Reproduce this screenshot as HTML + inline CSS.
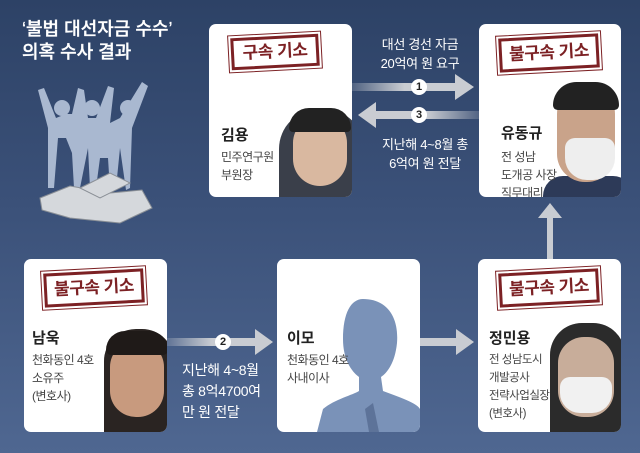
<!DOCTYPE html>
<html><head><meta charset="utf-8"><style>
*{margin:0;padding:0;box-sizing:border-box}
body{width:640px;height:453px;overflow:hidden;background:linear-gradient(180deg,#2d4266 0%,#3b5179 45%,#4f6791 100%);font-family:"Liberation Sans","Noto Sans CJK KR",sans-serif;position:relative}
.a{position:absolute}
.card{position:absolute;background:#fff;border-radius:7px;overflow:hidden}
.stamp{position:absolute;border:3px solid #7c2124;outline:1px solid #7c2124;outline-offset:2px;color:#7c2124;font-weight:bold;font-size:17px;text-align:center;line-height:26px;transform:rotate(-3deg);letter-spacing:-0.5px}
.name{position:absolute;font-weight:bold;font-size:15px;color:#222}
.desc{position:absolute;font-size:12px;color:#444;line-height:18px;letter-spacing:-0.5px}
.wt{position:absolute;color:#fff;font-size:13px;line-height:19px;text-align:center;letter-spacing:-0.3px}
.circ{position:absolute;width:16px;height:16px;border-radius:50%;background:#fff;color:#222;font-size:11px;font-weight:bold;text-align:center;line-height:16px}
</style></head><body>
<div class="a" style="left:22px;top:18px;color:#fff;font-size:18px;line-height:23px;font-weight:500;-webkit-text-stroke:0.3px #fff">‘불법 대선자금 수수’<br>의혹 수사 결과</div>
<svg class="a" style="left:30px;top:78px" width="140" height="150">
<g fill="#a9b8d0"><path d="M8 12 L14 10 L26 40 L36 36 L42 36 L48 10 L54 12 L58 40 L66 40 L78 8 L84 10 L80 45 L90 40 L112 4 L118 8 L102 50 L100 110 L96 112 L90 70 L86 110 L80 112 L78 80 L70 80 L66 110 L60 110 L58 70 L50 110 L44 110 L42 75 L36 60 L28 60 L24 110 L18 110 L18 50 Z"/><circle cx="32" cy="30" r="8"/><circle cx="62" cy="30" r="8"/><circle cx="98" cy="30" r="8"/></g>
<g fill="#d5d8dc" stroke="#8a8f96"><path d="M10 120 L40 108 L80 115 L112 112 L122 130 L90 145 L40 140 L12 132 Z"/><path d="M50 110 L80 95 L100 105 L70 120 Z"/></g>
</svg>

<!-- Kim card -->
<div class="card" style="left:209px;top:24px;width:143px;height:173px">
<div class="a" style="left:70px;top:85px;width:85px;height:95px;background:#3a3f4a;border-radius:40px 40px 0 0"></div>
<div class="a" style="left:84px;top:92px;width:54px;height:70px;background:#d9b8a0;border-radius:27px"></div>
<div class="a" style="left:80px;top:84px;width:62px;height:24px;background:#222;border-radius:30px 30px 6px 6px"></div>
<div class="name" style="left:12px;top:100px">김용</div>
<div class="desc" style="left:12px;top:124px">민주연구원<br>부원장</div>
</div>
<div class="stamp" style="left:231px;top:36px;width:88px;height:32px">구속 기소</div>

<!-- Yoo card -->
<div class="card" style="left:479px;top:24px;width:142px;height:173px">
<div class="a" style="left:64px;top:152px;width:90px;height:30px;background:#2d3a58;border-radius:20px 20px 0 0"></div>
<div class="a" style="left:78px;top:62px;width:58px;height:96px;background:#c9a38a;border-radius:28px"></div>
<div class="a" style="left:74px;top:58px;width:66px;height:28px;background:#222;border-radius:30px 30px 6px 6px"></div>
<div class="a" style="left:86px;top:114px;width:50px;height:42px;background:#eee;border-radius:10px 10px 22px 22px"></div>
<div class="name" style="left:22px;top:98px">유동규</div>
<div class="desc" style="left:22px;top:124px">전 성남<br>도개공 사장<br>직무대리</div>
</div>
<div class="stamp" style="left:499px;top:36px;width:100px;height:34px;line-height:28px">불구속 기소</div>

<!-- arrows top -->
<div class="wt" style="left:360px;top:35px;width:120px">대선 경선 자금<br>20억여 원 요구</div>
<svg class="a" style="left:352px;top:70px" width="130" height="60">
<defs><linearGradient id="g1" x1="0" x2="1"><stop offset="0" stop-color="#c9ccd2" stop-opacity=".2"/><stop offset=".5" stop-color="#c9ccd2"/></linearGradient><linearGradient id="g2" x1="1" x2="0"><stop offset="0" stop-color="#c9ccd2" stop-opacity=".2"/><stop offset=".5" stop-color="#c9ccd2"/></linearGradient></defs>
<rect x="0" y="13" width="105" height="8" fill="url(#g1)"/><path d="M103 4 L122 17 L103 30 Z" fill="#c9ccd2"/>
<rect x="22" y="41" width="105" height="8" fill="url(#g2)"/><path d="M24 32 L6 45 L24 58 Z" fill="#c9ccd2"/>
</svg>
<div class="circ" style="left:411px;top:79px">1</div>
<div class="circ" style="left:411px;top:107px">3</div>
<div class="wt" style="left:365px;top:135px;width:120px">지난해 4~8월 총<br>6억여 원 전달</div>

<!-- vertical arrow -->
<svg class="a" style="left:537px;top:202px" width="26" height="58"><rect x="10" y="14" width="6" height="44" fill="#c9ccd2"/><path d="M1 16 L13 1 L25 16 Z" fill="#c9ccd2"/></svg>

<!-- Nam card -->
<div class="card" style="left:24px;top:259px;width:143px;height:173px">
<div class="a" style="left:80px;top:70px;width:70px;height:103px;background:#2a2422;border-radius:32px 32px 0 0"></div>
<div class="a" style="left:86px;top:82px;width:54px;height:76px;background:#c89a7e;border-radius:26px"></div>
<div class="a" style="left:82px;top:72px;width:62px;height:24px;background:#1f1a18;border-radius:30px 30px 8px 8px"></div>
<div class="name" style="left:8px;top:68px">남욱</div>
<div class="desc" style="left:8px;top:92px">천화동인 4호<br>소유주<br>(변호사)</div>
</div>
<div class="stamp" style="left:44px;top:271px;width:100px;height:34px;line-height:28px">불구속 기소</div>

<!-- arrow 2 -->
<svg class="a" style="left:167px;top:328px" width="110" height="30"><defs><linearGradient id="g3" x1="0" x2="1"><stop offset="0" stop-color="#c9ccd2" stop-opacity=".2"/><stop offset=".5" stop-color="#c9ccd2"/></linearGradient></defs><rect x="0" y="10" width="90" height="8" fill="url(#g3)"/><path d="M88 1 L106 14 L88 27 Z" fill="#c9ccd2"/></svg>
<div class="circ" style="left:215px;top:334px">2</div>
<div class="wt" style="left:182px;top:360px;text-align:left;font-size:14px;line-height:21px">지난해 4~8월<br>총 8억4700여<br>만 원 전달</div>

<!-- Lee card -->
<div class="card" style="left:277px;top:259px;width:143px;height:173px">
<svg class="a" style="left:40px;top:40px" width="103" height="133"><path d="M46 0 C70 0 82 18 80 44 C78 64 70 74 64 78 L66 92 C82 98 100 104 103 110 L103 133 L0 133 L6 110 C18 100 36 96 42 92 L42 78 C34 72 26 60 26 40 C26 14 34 0 46 0 Z" fill="#7a92b8"/><path d="M48 110 L56 104 L62 133 L52 133 Z" fill="#5d7399"/></svg>
<div class="name" style="left:10px;top:68px">이모</div>
<div class="desc" style="left:10px;top:92px">천화동인 4호<br>사내이사</div>
</div>

<!-- arrow Lee->Jung -->
<svg class="a" style="left:420px;top:328px" width="56" height="30"><rect x="0" y="10" width="38" height="8" fill="#c9ccd2"/><path d="M36 1 L54 14 L36 27 Z" fill="#c9ccd2"/></svg>

<!-- Jung card -->
<div class="card" style="left:478px;top:259px;width:143px;height:173px">
<div class="a" style="left:72px;top:64px;width:75px;height:109px;background:#2b2b2b;border-radius:32px 32px 0 0"></div>
<div class="a" style="left:80px;top:78px;width:56px;height:80px;background:#c8ad9a;border-radius:26px"></div>
<div class="a" style="left:82px;top:118px;width:52px;height:36px;background:#f1f1f1;border-radius:10px 10px 20px 20px"></div>
<div class="name" style="left:11px;top:68px">정민용</div>
<div class="desc" style="left:11px;top:92px;font-size:11.5px">전 성남도시<br>개발공사<br>전략사업실장<br>(변호사)</div>
</div>
<div class="stamp" style="left:499px;top:271px;width:100px;height:34px;line-height:28px">불구속 기소</div>
</body></html>
